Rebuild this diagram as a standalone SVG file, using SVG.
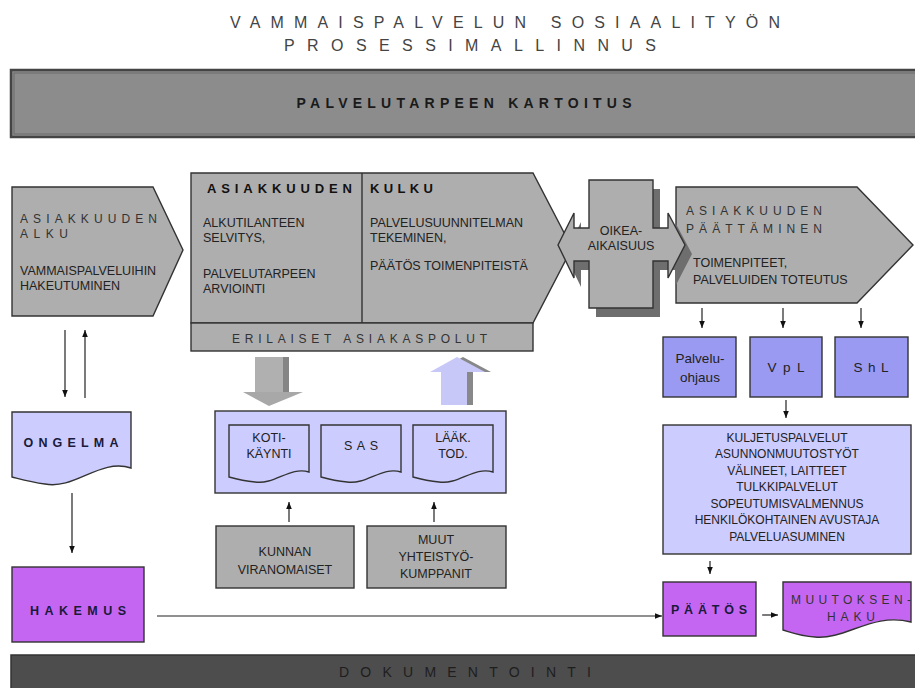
<svg xmlns="http://www.w3.org/2000/svg" width="915" height="688" viewBox="0 0 915 688">
<defs>
<marker id="ah" viewBox="0 0 10 8" refX="10" refY="4" markerWidth="7" markerHeight="5.6" markerUnits="userSpaceOnUse" orient="auto"><path d="M0,0 L10,4 L0,8 Z" fill="#111"/></marker>
<path id="docS" d="M0,0 H80 V47 C61,41 46,60 26,57 C14,56 7,54 0,52 Z"/>
</defs>
<style>
text{font-family:"Liberation Sans",Arial,sans-serif;fill:#222}
.sm{font-size:12.5px}
.sp{font-size:12px;fill:#333}
.hd{font-size:13px;font-weight:bold;fill:#111}
.bd{font-size:12.5px;font-weight:bold;fill:#1a1a3a}
.mid{text-anchor:middle}
.gray{fill:#aeaeae;stroke:#333;stroke-width:1.4}
.blue{fill:#9a9af2;stroke:#333;stroke-width:1.4}
.lav{fill:#ccccff;stroke:#333;stroke-width:1.4}
.pur{fill:#c566f2;stroke:#333;stroke-width:1.4}
.con{stroke:#222;stroke-width:1.2;fill:none;marker-end:url(#ah)}
</style>
<rect width="915" height="688" fill="#fff"/>

<g id="title">
<text x="230" y="28" font-size="16" style="fill:#444" textLength="550" lengthAdjust="spacing">VAMMAISPALVELUN SOSIAALITYÖN</text>
<text x="284" y="51" font-size="16" style="fill:#444" textLength="372" lengthAdjust="spacing">PROSESSIMALLINNUS</text>
</g>

<g id="kartoitus">
<rect x="11" y="70" width="910" height="67" fill="#8c8c8c" stroke="#444" stroke-width="2.5"/>
<rect x="14" y="73" width="910" height="61" fill="none" stroke="#6a6a6a" stroke-width="1"/>
<text x="464" y="108" class="mid" font-size="14" font-weight="bold" style="fill:#1a1a1a" textLength="335" lengthAdjust="spacing">PALVELUTARPEEN KARTOITUS</text>
</g>

<g id="alku">
<path class="gray" d="M12,187 H153 L183,250 L153,316 H12 Z"/>
<text x="20" y="223" class="sp" textLength="137" lengthAdjust="spacing">ASIAKKUUDEN</text>
<text x="20" y="238" class="sp" textLength="48" lengthAdjust="spacing">ALKU</text>
<text x="20" y="275" class="sm">VAMMAISPALVELUIHIN</text>
<text x="20" y="290" class="sm">HAKEUTUMINEN</text>
</g>

<g id="kulku">
<path class="gray" d="M191,173 H533 L572,248 L533,323 H191 Z"/>
<line x1="362" y1="173" x2="362" y2="323" stroke="#333" stroke-width="1.4"/>
<text x="207" y="193" class="hd" textLength="145" lengthAdjust="spacing">ASIAKKUUDEN</text>
<text x="370" y="193" class="hd" textLength="63" lengthAdjust="spacing">KULKU</text>
<text x="203" y="227" class="sm">ALKUTILANTEEN</text>
<text x="203" y="242" class="sm">SELVITYS,</text>
<text x="203" y="278" class="sm">PALVELUTARPEEN</text>
<text x="203" y="293" class="sm">ARVIOINTI</text>
<text x="370" y="227" class="sm">PALVELUSUUNNITELMAN</text>
<text x="370" y="242" class="sm">TEKEMINEN,</text>
<text x="370" y="270" class="sm">PÄÄTÖS TOIMENPITEISTÄ</text>
</g>

<g id="asiakaspolut">
<rect class="gray" x="191" y="323" width="342" height="28"/>
<text x="232" y="343" class="sp" textLength="255" lengthAdjust="spacing">ERILAISET ASIAKASPOLUT</text>
</g>

<g id="paattaminen">
<path class="gray" d="M676,187 H857 L913,245 L857,303 H676 Z"/>
<text x="686" y="215" class="sp" textLength="136" lengthAdjust="spacing">ASIAKKUUDEN</text>
<text x="686" y="233" class="sp" textLength="136" lengthAdjust="spacing">PÄÄTTÄMINEN</text>
<text x="693" y="267" class="sm">TOIMENPITEET,</text>
<text x="693" y="284" class="sm">PALVELUIDEN TOTEUTUS</text>
</g>

<g id="oikea-aikaisuus">
<path transform="translate(7,9)" fill="#6e6e6e" d="M589,180 H653 V228 H668 V213 L685,245 L668,278 V261 H653 V308 H589 V261 H574 V278 L558,245 L574,213 V228 H589 Z"/>
<path class="gray" d="M589,180 H653 V228 H668 V213 L685,245 L668,278 V261 H653 V308 H589 V261 H574 V278 L558,245 L574,213 V228 H589 Z"/>
<text x="621" y="235" class="sm mid">OIKEA-</text>
<text x="621" y="250" class="sm mid">AIKAISUUS</text>
</g>

<g id="palveluohjaus">
<rect class="blue" x="663" y="337" width="73" height="60"/>
<text x="700" y="363" class="mid" font-size="13.5">Palvelu-</text>
<text x="700" y="382" class="mid" font-size="13.5">ohjaus</text>
</g>
<g id="vpl">
<rect class="blue" x="750" y="337" width="72" height="60"/>
<text x="786" y="372" class="mid" font-size="13.5" textLength="37" lengthAdjust="spacing">VpL</text>
</g>
<g id="shl">
<rect class="blue" x="835" y="337" width="73" height="60"/>
<text x="871" y="372" class="mid" font-size="13.5" textLength="35" lengthAdjust="spacing">ShL</text>
</g>

<g id="palvelut">
<rect class="lav" x="663" y="425" width="248" height="129"/>
<text x="787" y="442" class="mid" font-size="12">KULJETUSPALVELUT</text>
<text x="787" y="458" class="mid" font-size="12">ASUNNONMUUTOSTYÖT</text>
<text x="787" y="475" class="mid" font-size="12">VÄLINEET, LAITTEET</text>
<text x="787" y="491" class="mid" font-size="12">TULKKIPALVELUT</text>
<text x="787" y="508" class="mid" font-size="12">SOPEUTUMISVALMENNUS</text>
<text x="787" y="524" class="mid" font-size="12">HENKILÖKOHTAINEN AVUSTAJA</text>
<text x="787" y="541" class="mid" font-size="12">PALVELUASUMINEN</text>
</g>

<g id="paatos">
<rect class="pur" x="663" y="582" width="93" height="54"/>
<text x="709" y="614" class="bd mid" textLength="76" lengthAdjust="spacing">PÄÄTÖS</text>
</g>

<g id="muutoksenhaku">
<path class="pur" d="M783,582 H911 V622 C872,612 846,640 815,637 C800,636 790,632 783,630 Z"/>
<text x="851" y="604" class="sp mid" textLength="120" lengthAdjust="spacing">MUUTOKSEN-</text>
<text x="851" y="621" class="sp mid" textLength="48" lengthAdjust="spacing">HAKU</text>
</g>

<g id="ongelma">
<path class="lav" d="M12,412 H131 V468 C100,458 75,490 45,484 C30,482 20,479 12,477 Z"/>
<text x="71" y="447" class="bd mid" textLength="95" lengthAdjust="spacing">ONGELMA</text>
</g>

<g id="hakemus">
<rect class="pur" x="12" y="567" width="132" height="75"/>
<text x="78" y="615" class="bd mid" textLength="96" lengthAdjust="spacing">HAKEMUS</text>
</g>

<g id="down-arrow">
<rect x="262" y="357" width="27" height="36" fill="#858585"/>
<rect x="255" y="357" width="28" height="36" fill="#b0b0b0"/>
<polygon points="243,392 303,392 269,406" fill="#a8a8a8"/>
</g>

<g id="up-arrow">
<polygon points="463,357 491,372 473,372 473,405 447,405 447,372 436,372" fill="#888"/>
<polygon points="457,357 485,372 467,372 467,405 441,405 441,372 430,372" fill="#c8c8f8"/>
</g>

<g id="dokumentit">
<rect class="lav" x="215" y="411" width="291" height="82"/>
</g>
<g id="kotikaynti">
<use href="#docS" x="229" y="425" class="lav"/>
<text x="269" y="442" class="sm mid">KOTI-</text>
<text x="269" y="458" class="sm mid">KÄYNTI</text>
</g>
<g id="sas">
<use href="#docS" x="321" y="425" class="lav"/>
<text x="361" y="450" class="sm mid" textLength="34" lengthAdjust="spacing">SAS</text>
</g>
<g id="laakarintodistus">
<use href="#docS" x="413" y="425" class="lav"/>
<text x="453" y="442" class="sm mid">LÄÄK.</text>
<text x="453" y="458" class="sm mid">TOD.</text>
</g>

<g id="kunnan">
<rect class="gray" x="216" y="526" width="138" height="62"/>
<text x="285" y="556" class="sm mid">KUNNAN</text>
<text x="285" y="574" class="sm mid">VIRANOMAISET</text>
</g>
<g id="muut">
<rect class="gray" x="367" y="526" width="139" height="62"/>
<text x="436" y="544" class="sm mid">MUUT</text>
<text x="436" y="561" class="sm mid">YHTEISTYÖ-</text>
<text x="436" y="578" class="sm mid">KUMPPANIT</text>
</g>

<g id="dokumentointi">
<rect x="11" y="655" width="910" height="40" fill="#4d4d4d" stroke="#333" stroke-width="1.5"/>
<text x="465" y="677" class="mid" font-size="14" style="fill:#1e1e1e" textLength="252" lengthAdjust="spacing">DOKUMENTOINTI</text>
</g>

<g id="connectors">
<line class="con" x1="65" y1="330" x2="65" y2="397"/>
<line class="con" x1="85" y1="398" x2="85" y2="330"/>
<line class="con" x1="72" y1="493" x2="72" y2="553"/>
<line class="con" x1="157" y1="616" x2="662" y2="616"/>
<line class="con" x1="289" y1="522" x2="289" y2="502"/>
<line class="con" x1="434" y1="522" x2="434" y2="502"/>
<line class="con" x1="702" y1="308" x2="702" y2="328"/>
<line class="con" x1="783" y1="308" x2="783" y2="328"/>
<line class="con" x1="861" y1="308" x2="861" y2="328"/>
<line class="con" x1="786" y1="400" x2="786" y2="418"/>
<line class="con" x1="710" y1="561" x2="710" y2="574"/>
<line class="con" x1="762" y1="615" x2="778" y2="615"/>
</g>
</svg>
